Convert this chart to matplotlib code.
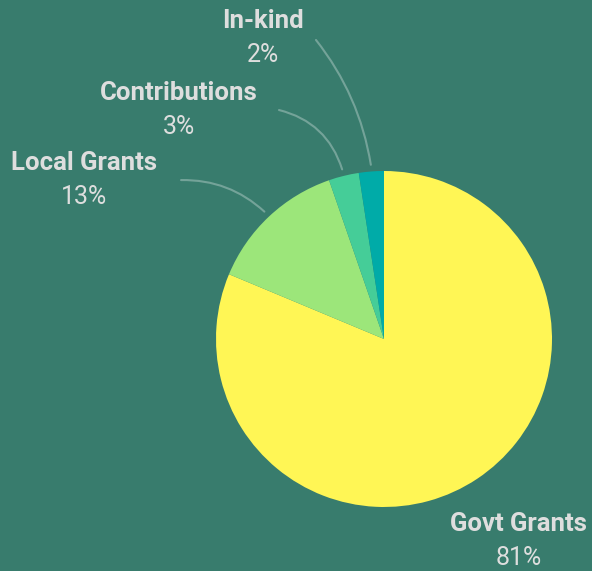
import numpy as np
import matplotlib
matplotlib.use("Agg")
import matplotlib.pyplot as plt

# ---- data ----
categories = ["Govt Grants", "Local Grants", "Contributions", "In-kind"]
shares = [81.3, 13.4, 2.9, 2.4]
pct_labels = ["81%", "13%", "3%", "2%"]

# ---- style / layout ----
colors = ["#FFF655", "#9CE67A", "#45CD98", "#00ABA8"]
bg = "#387C6D"
text_color = "#DEDEDE"
W, H = 592, 571
cx, cy, R = 384, 571 - 339, 168
# label anchor (x centre, name baseline) in radius units relative to the centre
label_pos = [(0.80, -1.144), (-1.786, 1.006), (-1.220, 1.423), (-0.720, 1.851)]
line_gap = 34 / R
# connector start in radius units (None = no connector)
conn_start = [None, (-1.208, 0.946), (-0.625, 1.363), (-0.405, 1.780)]
conn_rad = [0, -0.2, -0.28, -0.13]

fig = plt.figure(figsize=(W / 100, H / 100), dpi=100, facecolor=bg)
ax = fig.add_axes([0, 0, 1, 1])
ax.set_facecolor(bg)

wedges, _ = ax.pie(shares, colors=colors, startangle=90, counterclock=False,
                   center=(cx, cy), radius=R, frame=True,
                   wedgeprops=dict(linewidth=0))
ax.set_xlim(0, W)
ax.set_ylim(0, H)
ax.set_aspect("equal")
ax.axis("off")

for i, w in enumerate(wedges):
    lx, ly = label_pos[i]
    px, py = cx + lx * R, cy + ly * R
    ax.text(px, py, categories[i], ha="center", va="baseline",
            fontsize=18.5, fontweight="bold", family="Roboto", color=text_color)
    ax.text(px, py - line_gap * R, pct_labels[i], ha="center", va="baseline",
            fontsize=18, fontweight="normal", family="Roboto", color=text_color)
    if conn_start[i] is not None:
        mid = np.deg2rad((w.theta1 + w.theta2) / 2)
        ex, ey = cx + 1.04 * R * np.cos(mid), cy + 1.04 * R * np.sin(mid)
        sx, sy = cx + conn_start[i][0] * R, cy + conn_start[i][1] * R
        ax.annotate("", xy=(ex, ey), xytext=(sx, sy),
                    arrowprops=dict(arrowstyle="-", color="#FFFFFF", alpha=0.3, lw=1.5,
                                    shrinkA=0, shrinkB=0,
                                    connectionstyle=f"arc3,rad={conn_rad[i]}"))

fig.savefig("out.png", dpi=100, facecolor=bg)
